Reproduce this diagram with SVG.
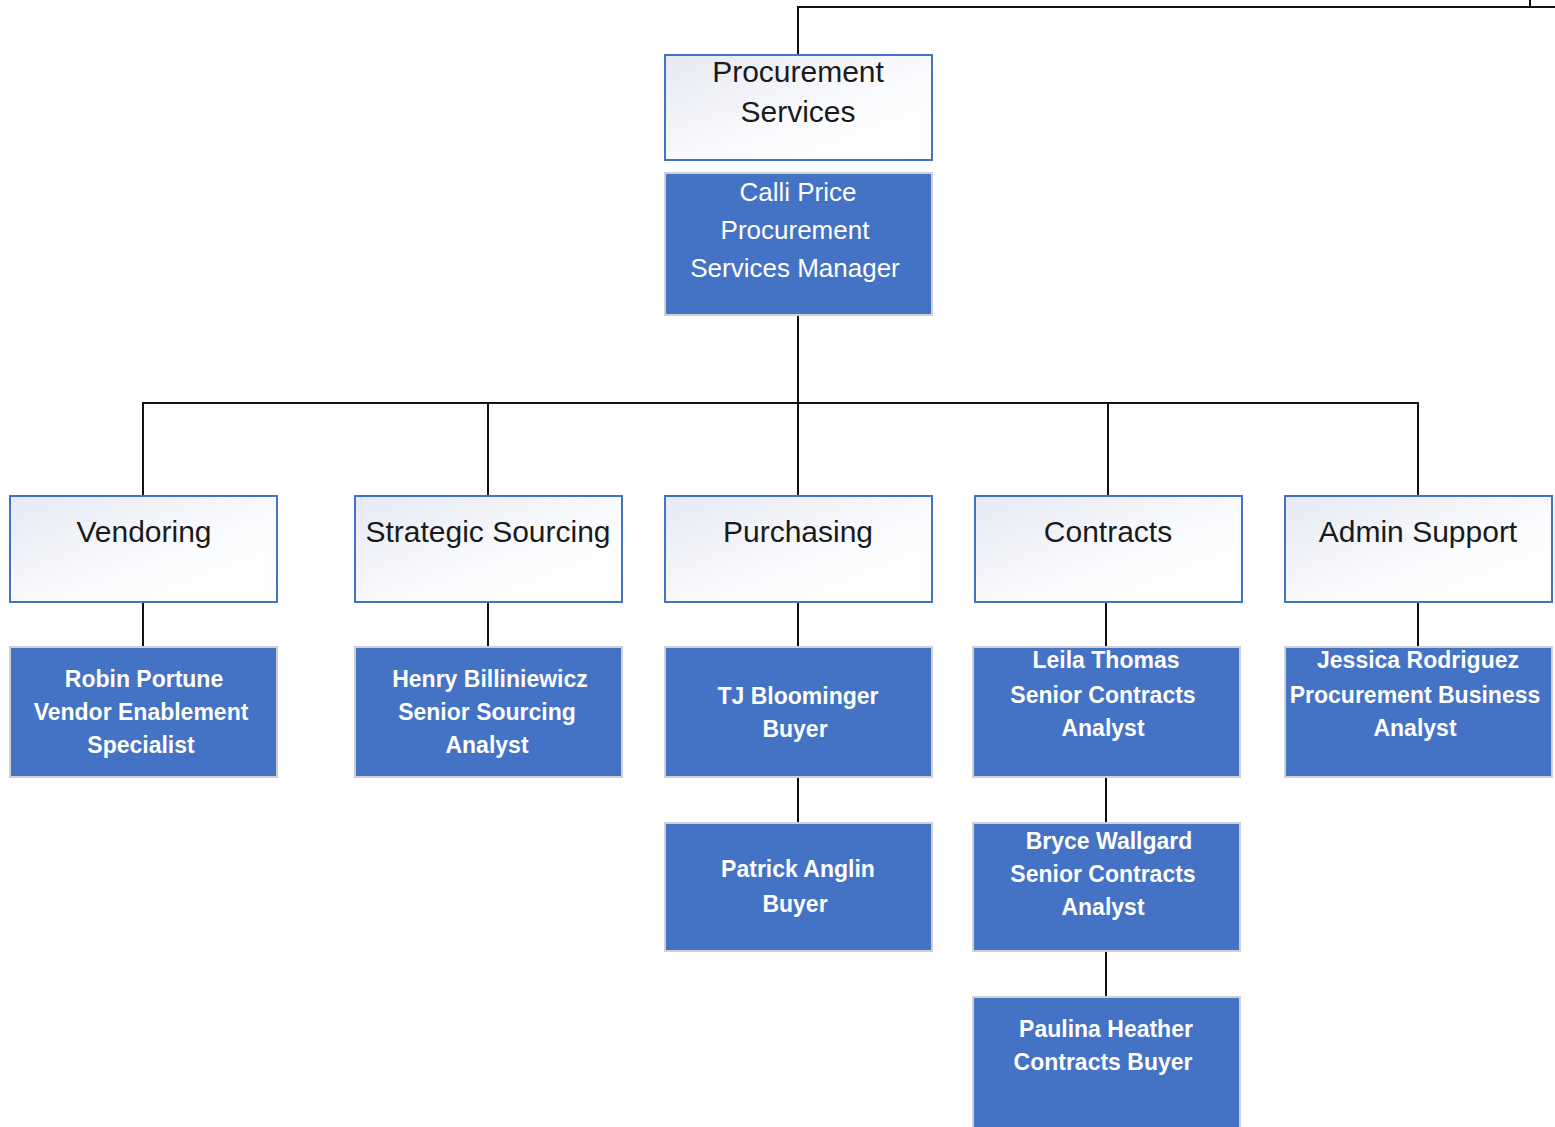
<svg xmlns="http://www.w3.org/2000/svg" width="1555" height="1127" viewBox="0 0 1555 1127">
<defs>
<linearGradient id="g" x1="0" y1="0" x2="1" y2="1">
<stop offset="0" stop-color="#e6e9f3"/>
<stop offset="0.6" stop-color="#fbfcfe"/>
<stop offset="1" stop-color="#ffffff"/>
</linearGradient>
</defs>
<style>
.d{fill:url(#g);stroke:#4472c4;stroke-width:2}
.p{fill:#4472c4;stroke:#d0d0d0;stroke-width:2}
.dt{font-family:"Liberation Sans",Arial,sans-serif;font-size:30px;fill:#1a1a1a;text-anchor:middle}
.pt{font-family:"Liberation Sans",Arial,sans-serif;font-size:23px;font-weight:bold;fill:#ffffff;text-anchor:middle}
.mt{font-family:"Liberation Sans",Arial,sans-serif;font-size:26px;fill:#ffffff;text-anchor:middle}
.c{fill:none;stroke:#111;stroke-width:2}
</style>
<g id="connectors">
<polyline class="c" points="798,55 798,7 1555,7"/>
<line class="c" x1="1530" y1="0" x2="1530" y2="7"/>
<line class="c" x1="798" y1="315" x2="798" y2="496"/>
<polyline class="c" points="143,496 143,403 1418,403 1418,496"/>
<line class="c" x1="488" y1="403" x2="488" y2="496"/>
<line class="c" x1="1108" y1="403" x2="1108" y2="496"/>
<line class="c" x1="143" y1="602" x2="143" y2="647"/>
<line class="c" x1="488" y1="602" x2="488" y2="647"/>
<line class="c" x1="798" y1="602" x2="798" y2="647"/>
<line class="c" x1="1106" y1="602" x2="1106" y2="647"/>
<line class="c" x1="1418" y1="602" x2="1418" y2="647"/>
<line class="c" x1="798" y1="777" x2="798" y2="823"/>
<line class="c" x1="1106" y1="777" x2="1106" y2="823"/>
<line class="c" x1="1106" y1="951" x2="1106" y2="997"/>
</g>
<g id="procurement-services">
<rect class="d" x="665" y="55" width="267" height="105"/>
<text class="dt" x="798" y="82">Procurement</text>
<text class="dt" x="798" y="122">Services</text>
</g>
<g id="calli-price">
<rect class="p" x="665" y="173" width="267" height="142"/>
<text class="mt" x="798" y="201">Calli Price</text>
<text class="mt" x="795" y="239">Procurement</text>
<text class="mt" x="795" y="277">Services Manager</text>
</g>
<g id="vendoring">
<rect class="d" x="10" y="496" width="267" height="106"/>
<text class="dt" x="144" y="542">Vendoring</text>
</g>
<g id="strategic-sourcing">
<rect class="d" x="355" y="496" width="267" height="106"/>
<text class="dt" x="488" y="542">Strategic Sourcing</text>
</g>
<g id="purchasing">
<rect class="d" x="665" y="496" width="267" height="106"/>
<text class="dt" x="798" y="542">Purchasing</text>
</g>
<g id="contracts">
<rect class="d" x="975" y="496" width="267" height="106"/>
<text class="dt" x="1108" y="542">Contracts</text>
</g>
<g id="admin-support">
<rect class="d" x="1285" y="496" width="267" height="106"/>
<text class="dt" x="1418" y="542">Admin Support</text>
</g>
<g id="robin-portune">
<rect class="p" x="10" y="647" width="267" height="130"/>
<text class="pt" x="144" y="687">Robin Portune</text>
<text class="pt" x="141" y="720">Vendor Enablement</text>
<text class="pt" x="141" y="753">Specialist</text>
</g>
<g id="henry-billiniewicz">
<rect class="p" x="355" y="647" width="267" height="130"/>
<text class="pt" x="490" y="687">Henry Billiniewicz</text>
<text class="pt" x="487" y="720">Senior Sourcing</text>
<text class="pt" x="487" y="753">Analyst</text>
</g>
<g id="tj-bloominger">
<rect class="p" x="665" y="647" width="267" height="130"/>
<text class="pt" x="798" y="704">TJ Bloominger</text>
<text class="pt" x="795" y="737">Buyer</text>
</g>
<g id="leila-thomas">
<rect class="p" x="973" y="647" width="267" height="130"/>
<text class="pt" x="1106" y="668">Leila Thomas</text>
<text class="pt" x="1103" y="703">Senior Contracts</text>
<text class="pt" x="1103" y="736">Analyst</text>
</g>
<g id="jessica-rodriguez">
<rect class="p" x="1285" y="647" width="267" height="130"/>
<text class="pt" x="1418" y="668">Jessica Rodriguez</text>
<text class="pt" x="1415" y="703">Procurement Business</text>
<text class="pt" x="1415" y="736">Analyst</text>
</g>
<g id="patrick-anglin">
<rect class="p" x="665" y="823" width="267" height="128"/>
<text class="pt" x="798" y="877">Patrick Anglin</text>
<text class="pt" x="795" y="912">Buyer</text>
</g>
<g id="bryce-wallgard">
<rect class="p" x="973" y="823" width="267" height="128"/>
<text class="pt" x="1109" y="849">Bryce Wallgard</text>
<text class="pt" x="1103" y="882">Senior Contracts</text>
<text class="pt" x="1103" y="915">Analyst</text>
</g>
<g id="paulina-heather">
<rect class="p" x="973" y="997" width="267" height="135"/>
<text class="pt" x="1106" y="1037">Paulina Heather</text>
<text class="pt" x="1103" y="1070">Contracts Buyer</text>
</g>
</svg>
